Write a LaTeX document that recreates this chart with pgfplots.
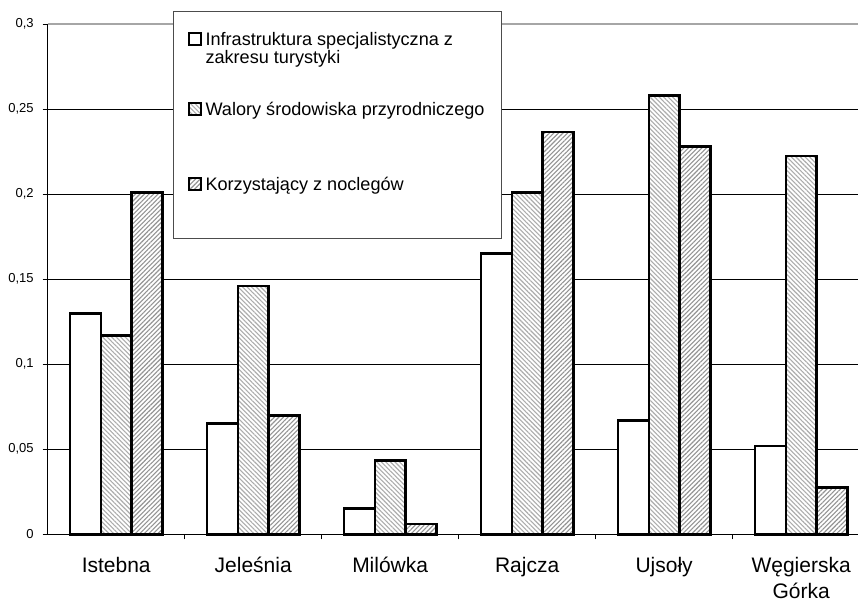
\documentclass[border=0pt]{standalone}
\usepackage{pgfplots}
\pgfplotsset{compat=1.18}
\usepackage{fontspec}
\setmainfont{Liberation Sans}
\usetikzlibrary{patterns.meta}
\begin{document}
\begin{tikzpicture}
\begin{axis}[
  name=ax,
  scale only axis,
  width=405.15pt, height=255pt,
  xmin=-0.5, xmax=5.415,
  ymin=0, ymax=0.3,
  clip=false,
  axis x line=bottom, axis y line=left,
  axis line style={-, black, line width=0.6pt},
  ybar=0pt, bar width=15.35pt,
  tick align=outside,
  major tick length=2.5pt, minor tick length=2.5pt,
  xtick={0,1,2,3,4,5},
  xticklabels={Istebna, Jeleśnia, Milówka, Rajcza, Ujsoły, {\begin{tabular}[t]{@{}c@{}}Węgierska\\Górka\end{tabular}}},
  minor xtick={0.5,1.5,2.5,3.5,4.5},
  every major x tick/.append style={draw=none},
  every minor x tick/.append style={black, line width=0.5pt},
  every major y tick/.append style={black, line width=0.5pt},
  xticklabel style={font=\fontsize{10.5}{12.8}\selectfont, inner sep=0pt, text height=7.5pt, anchor=north, yshift=-9pt},
  ytick={0,0.05,0.1,0.15,0.2,0.25},
  extra y ticks={0.3},
  extra y tick style={major grid style={gray!70, line width=0.9pt}},
  scaled y ticks=false,
  yticklabel style={font=\fontsize{6.5}{7}\selectfont, xshift=-1pt, /pgf/number format/.cd, fixed, precision=2, use comma, assume math mode=true},
  ymajorgrids,
  major grid style={black, line width=0.5pt},
  legend image code/.code={\draw[#1, line width=1pt] (0pt,0pt) rectangle (6pt,6pt);},
  legend style={at={(axis description cs:0.1731,0.9869)}, anchor=north west, draw=none, fill=none, inner sep=0pt, row sep=0pt, column sep=1.6pt, cells={anchor=base west}, font=\fontsize{9.05}{9}\selectfont, nodes={inner sep=0pt, text depth=}},
]
\draw[gray!60!black, line width=0.6pt, fill=white] (axis description cs:0.155,1.0247) rectangle (axis description cs:0.5603,0.5804);
\addplot[draw=black, line width=1.3pt, fill=white]
  coordinates {(0,0.130) (1,0.065) (2,0.0153) (3,0.165) (4,0.067) (5,0.052)};
\addplot[draw=black, line width=1.3pt, fill=white, postaction={pattern={Lines[angle=-45,distance=1.6pt,line width=0.55pt]}, pattern color=gray!65}]
  coordinates {(0,0.117) (1,0.146) (2,0.0433) (3,0.201) (4,0.258) (5,0.2225)};
\addplot[draw=black, line width=1.3pt, fill=white, postaction={pattern={Lines[angle=45,distance=1.6pt,line width=0.55pt]}, pattern color=gray!85}]
  coordinates {(0,0.201) (1,0.070) (2,0.006) (3,0.2367) (4,0.228) (5,0.0276)};
\legend{\raisebox{0pt}[7pt][28pt]{\begin{tabular}[t]{@{}l@{}}Infrastruktura specjalistyczna z\\zakresu turystyki\end{tabular}}, \raisebox{0pt}[7pt][30.5pt]{Walory środowiska przyrodniczego}, \raisebox{0pt}[7pt][2pt]{Korzystający z noclegów}}
\end{axis}
\pgfresetboundingbox
\path[use as bounding box] ([xshift=-23.85pt,yshift=-33.35pt]ax.south west) rectangle ([yshift=12.15pt]ax.north east);
\end{tikzpicture}
\end{document}
